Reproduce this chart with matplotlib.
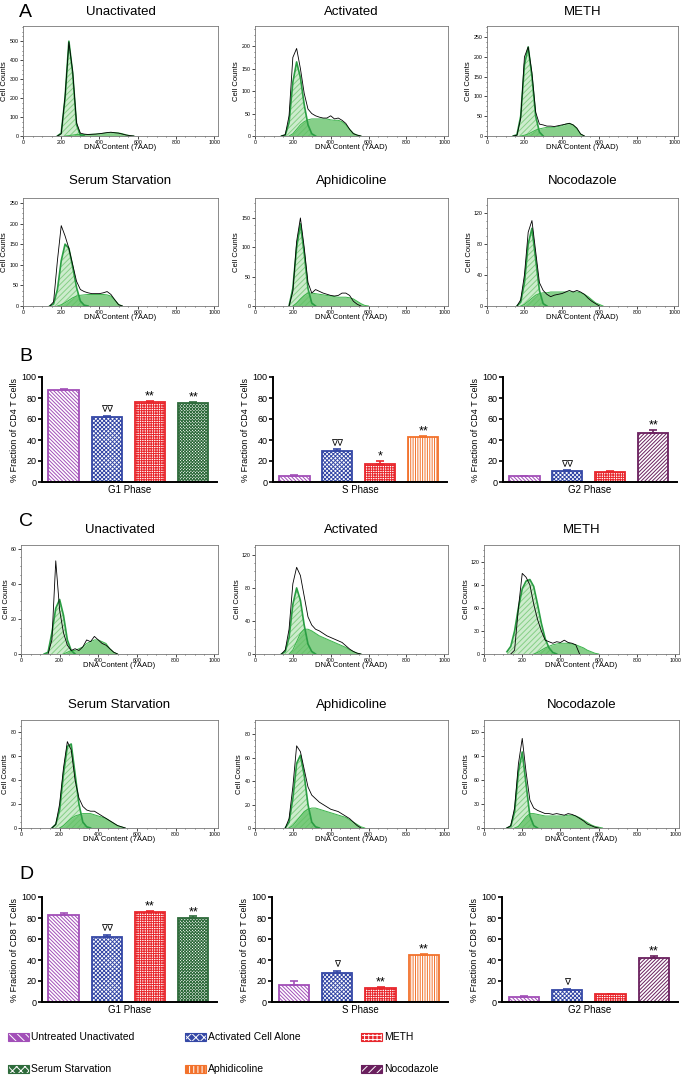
import numpy as np
import matplotlib.pyplot as plt
from matplotlib.patches import Rectangle

plt.rcParams['font.family'] = ['Liberation Sans', 'DejaVu Sans']
plt.rcParams['hatch.linewidth'] = 0.7

W, H = 685, 1078

# DNA content grid (7AAD) used for the histogram traces
dna = list(range(120, 660, 20))

# ---- CD4 histograms (panel A): raw counts, G1 fit, S+G2 fit ----
cd4_unact_raw = [0, 0, 0, 0, 12, 210, 495, 340, 70, 15, 10, 8, 9, 10, 12, 15, 18, 20, 17, 15, 10, 5, 2]
cd4_unact_g1 = [0, 0, 0, 0, 15, 200, 500, 330, 60, 5]
cd4_unact_sg2 = [0, 0, 0, 0, 0, 0, 2, 5, 8, 8, 8, 8, 9, 10, 12, 14, 16, 18, 18, 16, 12, 6, 2]

cd4_act_raw = [0, 0, 3, 45, 175, 195, 150, 95, 60, 50, 45, 42, 40, 40, 45, 38, 40, 35, 28, 15, 5, 2]
cd4_act_g1 = [0, 0, 2, 30, 120, 165, 130, 70, 25, 5]
cd4_act_sg2 = [0, 0, 0, 0, 5, 15, 25, 32, 36, 38, 38, 38, 38, 38, 36, 35, 35, 32, 25, 15, 6, 2]

cd4_meth_raw = [0, 0, 2, 45, 200, 225, 160, 60, 30, 28, 25, 25, 24, 26, 28, 30, 32, 28, 20, 5]
cd4_meth_g1 = [0, 0, 3, 50, 180, 225, 150, 50, 10]
cd4_meth_sg2 = [0, 0, 0, 0, 2, 5, 10, 15, 18, 20, 22, 22, 22, 24, 26, 30, 32, 28, 18, 5]

cd4_serum_raw = [0, 0, 10, 110, 195, 170, 140, 100, 60, 40, 35, 32, 30, 30, 30, 32, 35, 28, 15, 3]
cd4_serum_g1 = [0, 0, 5, 40, 110, 150, 140, 95, 45, 12, 2]
cd4_serum_sg2 = [0, 0, 0, 0, 3, 8, 14, 20, 24, 26, 27, 28, 28, 28, 28, 28, 27, 24, 15, 4]

cd4_aph_raw = [0, 0, 0, 0, 25, 110, 150, 100, 40, 22, 28, 25, 22, 20, 18, 17, 18, 22, 22, 18, 8, 3]
cd4_aph_g1 = [0, 0, 0, 0, 30, 100, 140, 90, 30, 5]
cd4_aph_sg2 = [0, 0, 0, 0, 0, 5, 12, 18, 22, 22, 21, 20, 19, 18, 17, 16, 15, 15, 15, 14, 12, 8, 4, 1]

cd4_noc_raw = [0, 0, 0, 8, 40, 95, 110, 70, 30, 20, 15, 12, 14, 15, 16, 18, 20, 18, 20, 18, 15, 10, 6, 3]
cd4_noc_g1 = [0, 0, 0, 5, 30, 80, 100, 60, 20, 3]
cd4_noc_sg2 = [0, 0, 0, 0, 2, 6, 10, 14, 16, 17, 17, 18, 18, 18, 18, 18, 18, 18, 18, 17, 15, 12, 8, 4, 2]

# ---- CD8 histograms (panel C) ----
cd8_unact_raw = [0, 0, 8, 53, 25, 12, 5, 2, 3, 2, 4, 8, 7, 10, 8, 6, 5, 3, 1]
cd8_unact_g1 = [0, 1, 12, 26, 31, 22, 8, 2]
cd8_unact_sg2 = [0, 0, 0, 0, 0, 0, 1, 2, 2, 3, 4, 6, 7, 8, 8, 7, 6, 3, 1]

cd8_act_raw = [0, 0, 5, 30, 85, 105, 95, 70, 45, 35, 30, 28, 25, 22, 20, 18, 16, 14, 10, 6, 3, 1]
cd8_act_g1 = [0, 0, 3, 20, 60, 80, 65, 35, 12, 3]
cd8_act_sg2 = [0, 0, 0, 0, 5, 15, 25, 30, 30, 28, 25, 22, 20, 18, 16, 14, 12, 10, 8, 5, 3, 1]

cd8_meth_raw = [0, 0, 5, 60, 105, 100, 90, 65, 45, 30, 18, 16, 14, 16, 15, 18, 15, 14, 12]
cd8_meth_g1 = [3, 10, 30, 60, 85, 95, 97, 88, 65, 40, 20, 8, 2]
cd8_meth_sg2 = [0, 0, 0, 0, 0, 0, 0, 0, 2, 5, 8, 10, 12, 13, 14, 14, 14, 13, 12, 10, 8, 5, 3, 1]

cd8_serum_raw = [0, 0, 0, 3, 20, 50, 72, 65, 40, 25, 18, 15, 14, 14, 12, 10, 8, 6, 4, 2, 1]
cd8_serum_g1 = [0, 0, 0, 3, 15, 45, 68, 70, 45, 20, 5, 1]
cd8_serum_sg2 = [0, 0, 0, 0, 0, 2, 5, 8, 10, 11, 12, 12, 12, 11, 10, 9, 8, 6, 4, 2, 1]

cd8_aph_raw = [0, 0, 0, 8, 35, 70, 65, 50, 35, 28, 25, 22, 20, 18, 16, 15, 14, 12, 10, 8, 5, 2]
cd8_aph_g1 = [0, 0, 0, 5, 25, 55, 62, 45, 20, 5, 1]
cd8_aph_sg2 = [0, 0, 0, 0, 2, 6, 10, 14, 16, 17, 17, 16, 15, 14, 13, 12, 11, 10, 9, 7, 5, 3, 1]

cd8_noc_raw = [0, 3, 25, 80, 112, 70, 35, 25, 22, 20, 18, 18, 17, 18, 17, 16, 18, 17, 15, 12, 9, 5, 3, 1]
cd8_noc_g1 = [0, 2, 20, 70, 95, 55, 15, 3]
cd8_noc_sg2 = [0, 0, 0, 2, 8, 14, 18, 18, 17, 16, 15, 15, 15, 15, 15, 15, 16, 16, 15, 13, 10, 7, 4, 2, 1]

hist_titles = ['Unactivated', 'Activated', 'METH', 'Serum Starvation', 'Aphidicoline', 'Nocodazole']
cd4_ylims = [(580, 100), (245, 50), (278, 50), (262, 50), (184, 50), (139, 40)]
cd8_ylims = [(62, 20), (132, 40), (142, 30), (90, 20), (92, 20), (135, 30)]

# ---- bar charts (panels B and D) ----
groups = ['Untreated Unactivated', 'Activated Cell Alone', 'METH',
          'Serum Starvation', 'Aphidicoline', 'Nocodazole']
phases = ['G1 Phase', 'S Phase', 'G2 Phase']
fourth_group = ['Serum Starvation', 'Aphidicoline', 'Nocodazole']

cd4_g1 = [88, 62, 76, 75]
cd4_g1_err = [1, 1, 1.5, 1]
cd4_s = [6, 30, 17, 43]
cd4_s_err = [0.5, 1, 3, 1]
cd4_g2 = [5.5, 10.5, 9.5, 47]
cd4_g2_err = [0.3, 0.5, 1, 3]
cd4_marks = [['', '\u2207\u2207', '**', '**'],
             ['', '\u2207\u2207', '*', '**'],
             ['', '\u2207\u2207', '', '**']]

cd8_g1 = [83, 62, 86, 80]
cd8_g1_err = [2, 1.5, 1, 1.5]
cd8_s = [16, 28, 13, 45]
cd8_s_err = [4, 2, 1, 1]
cd8_g2 = [5, 11.5, 7.5, 42]
cd8_g2_err = [1, 1, 0.5, 2]
cd8_marks = [['', '\u2207\u2207', '**', '**'],
             ['', '\u2207', '**', '**'],
             ['', '\u2207', '', '**']]

colors = {'Untreated Unactivated': '#a24fb8', 'Activated Cell Alone': '#3548a6',
          'METH': '#e8262c', 'Serum Starvation': '#2e6b3b',
          'Aphidicoline': '#f2722c', 'Nocodazole': '#6a205e'}
hatches = {'Untreated Unactivated': '\\' * 9, 'Activated Cell Alone': 'x' * 8,
           'METH': '+' * 7, 'Serum Starvation': 'x' * 11,
           'Aphidicoline': '|' * 7, 'Nocodazole': '/' * 9}


def box(l, t, r, b):
    return [l / W, 1 - b / H, (r - l) / W, (b - t) / H]


def pad(vals):
    return np.pad(np.array(vals, float), (0, len(dna) - len(vals)))


def trim(vals):
    # keep a line only where the trace has counts (plus one zero each side)
    v = pad(vals)
    nz = np.nonzero(v)[0]
    out = np.full(len(v), np.nan)
    lo, hi = max(nz[0] - 1, 0), min(nz[-1] + 2, len(v))
    out[lo:hi] = v[lo:hi]
    return out


def draw_hist(ax, raw, g1, sg2, ylim):
    x = np.array(dna)
    ax.fill_between(x, pad(g1), facecolor='#cdeccd', edgecolor='#86cf86',
                    hatch='//////', lw=0)
    ax.fill_between(x, pad(sg2), color='#5dbf62', alpha=0.75, lw=0)
    ax.plot(x, trim(sg2), color='#3cb44b', lw=0.7)
    ax.plot(x, trim(g1), color='#2a9d43', lw=1.2)
    ax.plot(x, trim(raw), color='black', lw=0.6)
    top, step = ylim
    ax.set_xlim(0, 1020)
    ax.set_ylim(0, top)
    ax.set_xticks(range(0, 1001, 200))
    ax.set_xticks(range(0, 1001, 50), minor=True)
    ax.set_yticks(np.arange(0, top, step))
    ax.set_yticks(np.arange(0, top, step / 4), minor=True)
    ax.tick_params(labelsize=3.8, length=2, width=0.5, pad=1)
    ax.tick_params(which='minor', length=1, width=0.4)
    for s in ax.spines.values():
        s.set_color('#777777')
        s.set_linewidth(0.6)
    ax.set_ylabel('Cell Counts', fontsize=5.5, labelpad=1)
    ax.set_xlabel('DNA Content (7AAD)', fontsize=5.5, labelpad=-1)


def draw_bars(ax, vals, errs, marks, phase, fourth, cell):
    names = groups[:3] + [fourth]
    xs = np.arange(4)
    for xi, v, e, m, n in zip(xs, vals, errs, marks, names):
        c = colors[n]
        ax.bar(xi, v, width=0.7, facecolor='white', edgecolor=c,
               hatch=hatches[n], lw=1.3)
        ax.errorbar(xi, v, yerr=[[0], [e]], color=c, capsize=3, lw=1.2,
                    capthick=1.2)
        if m:
            size = 9 if '*' in m else 6.5
            off = -1.5 if '*' in m else 1.5
            ax.text(xi, v + e + off, m, ha='center', va='bottom', fontsize=size)
    ax.set_xlim(-0.5, 3.55)
    ax.set_ylim(0, 100)
    ax.set_yticks(range(0, 101, 20))
    ax.set_xticks([])
    ax.spines['top'].set_visible(False)
    ax.spines['right'].set_visible(False)
    ax.spines['left'].set_linewidth(1.4)
    ax.spines['bottom'].set_linewidth(1.4)
    ax.tick_params(axis='y', labelsize=6.5, length=3, width=1.2, pad=1)
    ax.set_ylabel(f'% Fraction of {cell} T Cells', fontsize=6.5, labelpad=2)
    ax.set_xlabel(phase, fontsize=7, labelpad=2)


fig = plt.figure(figsize=(W / 100, H / 100), dpi=100)

cols_a = [(23, 218), (255, 448), (487, 678)]
cols_c = [(21, 218), (255, 448), (484, 679)]
cd4_hists = [(cd4_unact_raw, cd4_unact_g1, cd4_unact_sg2),
             (cd4_act_raw, cd4_act_g1, cd4_act_sg2),
             (cd4_meth_raw, cd4_meth_g1, cd4_meth_sg2),
             (cd4_serum_raw, cd4_serum_g1, cd4_serum_sg2),
             (cd4_aph_raw, cd4_aph_g1, cd4_aph_sg2),
             (cd4_noc_raw, cd4_noc_g1, cd4_noc_sg2)]
cd8_hists = [(cd8_unact_raw, cd8_unact_g1, cd8_unact_sg2),
             (cd8_act_raw, cd8_act_g1, cd8_act_sg2),
             (cd8_meth_raw, cd8_meth_g1, cd8_meth_sg2),
             (cd8_serum_raw, cd8_serum_g1, cd8_serum_sg2),
             (cd8_aph_raw, cd8_aph_g1, cd8_aph_sg2),
             (cd8_noc_raw, cd8_noc_g1, cd8_noc_sg2)]

# rows: (box top, box bottom, title y)
rows_a = [(26, 136, 12), (198, 306, 181)]
rows_c = [(545, 654, 530), (720, 828, 705)]

for hists, ylims, rows, cols in [(cd4_hists, cd4_ylims, rows_a, cols_a),
                                  (cd8_hists, cd8_ylims, rows_c, cols_c)]:
    for i in range(6):
        t, b, ty = rows[i // 3]
        l, r = cols[i % 3]
        ax = fig.add_axes(box(l, t, r, b))
        draw_hist(ax, *hists[i], ylims[i])
        fig.text((l + r) / 2 / W, 1 - ty / H, hist_titles[i], ha='center',
                 va='center', fontsize=9.5)

bar_cols_b = [(42, 217), (273, 447), (503, 677)]
bar_cols_d = [(42, 217), (272, 448), (502, 678)]
cd4_sets = [(cd4_g1, cd4_g1_err), (cd4_s, cd4_s_err), (cd4_g2, cd4_g2_err)]
cd8_sets = [(cd8_g1, cd8_g1_err), (cd8_s, cd8_s_err), (cd8_g2, cd8_g2_err)]

for sets, marks, cols, (t, b), cell in [(cd4_sets, cd4_marks, bar_cols_b, (377, 482), 'CD4'),
                                        (cd8_sets, cd8_marks, bar_cols_d, (897, 1002), 'CD8')]:
    for j in range(3):
        l, r = cols[j]
        ax = fig.add_axes(box(l, t, r, b))
        draw_bars(ax, sets[j][0], sets[j][1], marks[j], phases[j], fourth_group[j], cell)

for letter, y in [('A', 4), ('B', 348), ('C', 513), ('D', 866)]:
    fig.text(19 / W, 1 - y / H, letter, fontsize=14, va='top', ha='left')

# legend drawn by hand in figure pixels
legend_pos = [(8, 1037), (185, 1037), (361, 1037), (8, 1069), (185, 1069), (361, 1069)]
legend_order = ['Untreated Unactivated', 'Activated Cell Alone', 'METH',
                'Serum Starvation', 'Aphidicoline', 'Nocodazole']
for name, (lx, ly) in zip(legend_order, legend_pos):
    c = colors[name]
    rect = Rectangle((lx / W, 1 - (ly + 4) / H), 21 / W, 8 / H,
                     transform=fig.transFigure, facecolor=c, edgecolor='white',
                     hatch=hatches[name][:4], lw=0)
    fig.add_artist(rect)
    fig.add_artist(Rectangle((lx / W, 1 - (ly + 4) / H), 21 / W, 8 / H,
                             transform=fig.transFigure, fill=False,
                             edgecolor=c, lw=0.8))
    fig.text((lx + 23) / W, 1 - ly / H, name, fontsize=7.5, va='center', ha='left')

fig.savefig('out.png', dpi=100)
